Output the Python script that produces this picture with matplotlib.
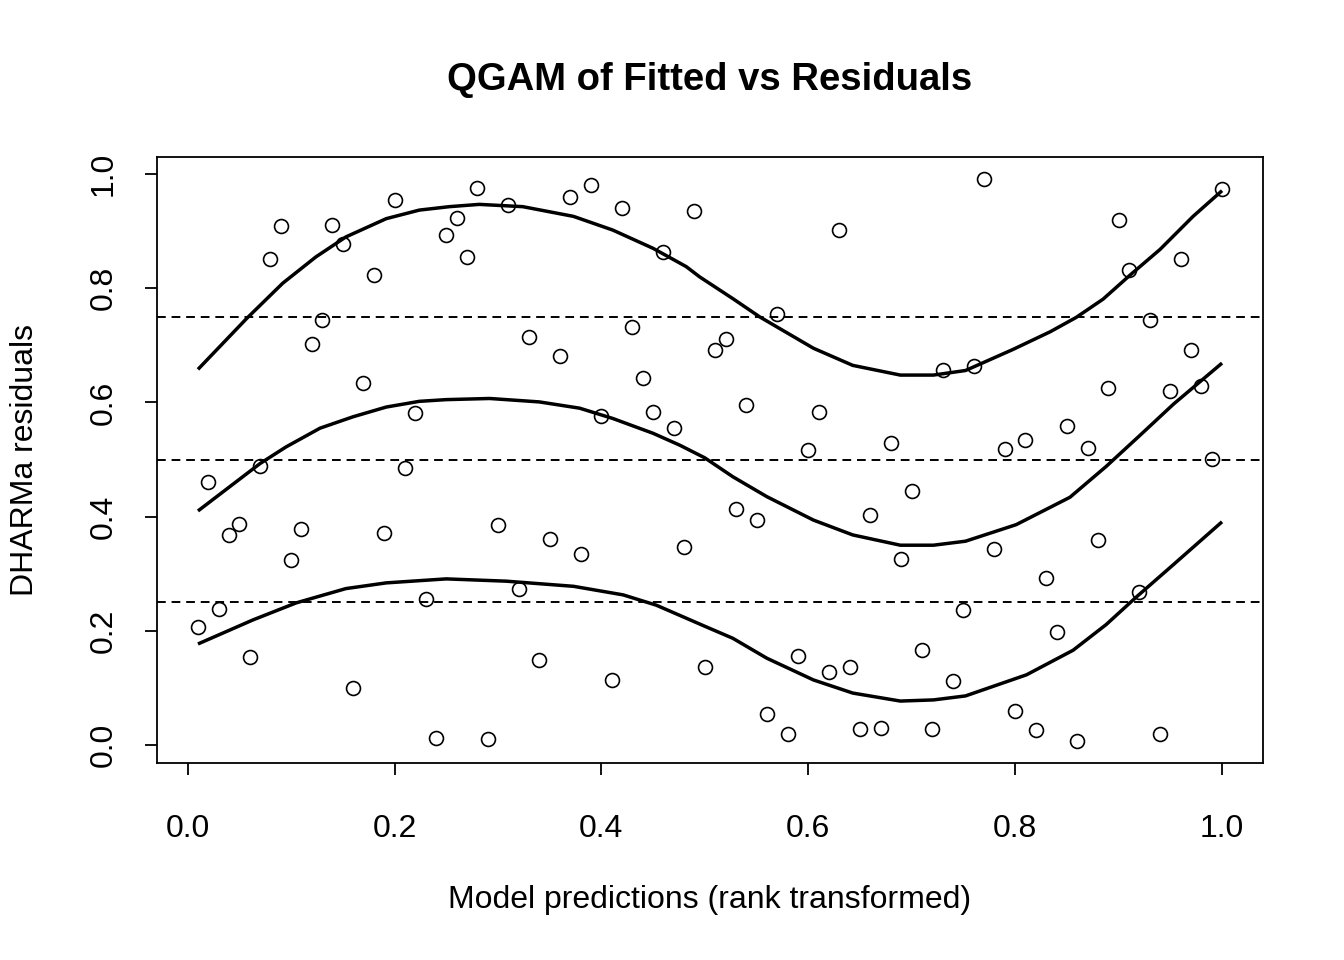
import numpy as np
import matplotlib.pyplot as plt

plt.rcParams['font.family'] = ['Liberation Sans', 'DejaVu Sans']

# residuals (x = rank transformed predictions 0.01..1.00)
pred = np.arange(1, 101) / 100
resid = [0.207, 0.461, 0.238, 0.368, 0.387, 0.154, 0.489, 0.851, 0.909, 0.324,
         0.378, 0.702, 0.744, 0.911, 0.877, 0.100, 0.634, 0.823, 0.371, 0.954,
         0.485, 0.581, 0.256, 0.012, 0.893, 0.923, 0.855, 0.975, 0.011, 0.385,
         0.946, 0.273, 0.715, 0.149, 0.361, 0.681, 0.960, 0.334, 0.981, 0.576,
         0.114, 0.940, 0.732, 0.643, 0.583, 0.863, 0.555, 0.347, 0.935, 0.137,
         0.692, 0.711, 0.413, 0.595, 0.394, 0.054, 0.755, 0.019, 0.156, 0.517,
         0.583, 0.128, 0.902, 0.137, 0.028, 0.403, 0.030, 0.529, 0.326, 0.445,
         0.166, 0.028, 0.657, 0.112, 0.236, 0.664, 0.991, 0.343, 0.518, 0.060,
         0.534, 0.026, 0.292, 0.198, 0.559, 0.007, 0.520, 0.359, 0.625, 0.919,
         0.832, 0.268, 0.744, 0.019, 0.620, 0.851, 0.692, 0.629, 0.501, 0.974]

# fitted quantile curves
q75_x = [0.010, 0.057, 0.092, 0.124, 0.153, 0.192, 0.224, 0.253, 0.282, 0.324,
         0.373, 0.411, 0.450, 0.482, 0.495, 0.527, 0.553, 0.605, 0.643, 0.689,
         0.721, 0.752, 0.798, 0.834, 0.859, 0.885, 0.911, 0.940, 0.972, 1.000]
q75_y = [0.658, 0.747, 0.809, 0.855, 0.890, 0.922, 0.937, 0.943, 0.947, 0.943,
         0.926, 0.902, 0.870, 0.838, 0.820, 0.782, 0.750, 0.695, 0.665, 0.648,
         0.648, 0.656, 0.693, 0.724, 0.749, 0.781, 0.823, 0.868, 0.926, 0.971]
q50_x = [0.010, 0.070, 0.095, 0.128, 0.160, 0.192, 0.224, 0.250, 0.292, 0.340,
         0.379, 0.411, 0.450, 0.476, 0.500, 0.527, 0.560, 0.605, 0.643, 0.689,
         0.721, 0.752, 0.801, 0.853, 0.888, 0.921, 0.953, 1.000]
q50_y = [0.410, 0.493, 0.522, 0.555, 0.575, 0.592, 0.602, 0.605, 0.607, 0.601,
         0.590, 0.572, 0.546, 0.525, 0.503, 0.470, 0.435, 0.394, 0.368, 0.350,
         0.350, 0.357, 0.386, 0.434, 0.488, 0.543, 0.597, 0.669]
q25_x = [0.010, 0.063, 0.105, 0.153, 0.192, 0.250, 0.308, 0.373, 0.421, 0.453,
         0.500, 0.527, 0.560, 0.605, 0.643, 0.689, 0.721, 0.752, 0.811, 0.856,
         0.888, 0.917, 0.953, 1.000]
q25_y = [0.177, 0.219, 0.249, 0.274, 0.284, 0.291, 0.287, 0.278, 0.263, 0.245,
         0.208, 0.187, 0.152, 0.114, 0.091, 0.077, 0.079, 0.086, 0.123, 0.166,
         0.211, 0.259, 0.316, 0.391]
quantiles = [0.25, 0.5, 0.75]
ticks = [0.0, 0.2, 0.4, 0.6, 0.8, 1.0]

fig = plt.figure(figsize=(13.44, 9.6), dpi=100)
ax = fig.add_axes([157/1344, 1-763/960, (1263-157)/1344, (763-157)/960])

for q in quantiles:
    ax.axhline(q, color='black', lw=1.4, ls=(0, (4.5, 3)))
for cx, cy in ((q25_x, q25_y), (q50_x, q50_y), (q75_x, q75_y)):
    ax.plot(cx, cy, color='black', lw=2.5, solid_capstyle='butt')
ax.plot(pred, resid, 'o', mfc='none', mec='black', ms=10, mew=1.2)

ax.set_xlim(-0.0296, 1.0396)
ax.set_ylim(-0.0315, 1.030)
ax.set_xticks(ticks)
ax.set_yticks(ticks)
ax.set_xticklabels([f'{v:.1f}' for v in ticks])
ax.set_yticklabels([f'{v:.1f}' for v in ticks], rotation=90, va='center')
ax.tick_params(direction='out', length=8.6, width=1.3, labelsize=23)
ax.tick_params(axis='x', pad=28)
ax.tick_params(axis='y', pad=19)
for s in ax.spines.values():
    s.set_linewidth(1.3)

fig.text(710/1344, 1-80/960, 'QGAM of Fitted vs Residuals', fontsize=27.5,
         fontweight='bold', ha='center', va='center')
ax.set_xlabel('Model predictions (rank transformed)', fontsize=23)
ax.xaxis.set_label_coords(0.5, (763-900)/606)
ax.xaxis.label.set_va('center')
ax.set_ylabel('DHARMa residuals', fontsize=23)
ax.yaxis.set_label_coords((25-157)/1106, 0.5)
ax.yaxis.label.set_va('center')

fig.savefig('out.png', dpi=100)
